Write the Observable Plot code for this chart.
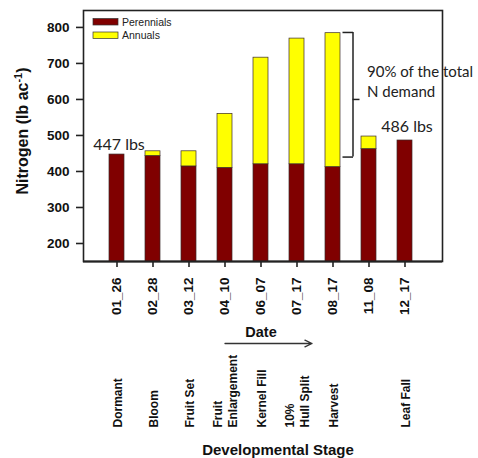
<!DOCTYPE html>
<html><head><meta charset="utf-8">
<script src="https://cdn.jsdelivr.net/npm/d3@7"></script>
<script src="https://cdn.jsdelivr.net/npm/@observablehq/plot@0.6"></script>
<style>body{margin:0;background:#fff} #chart{width:478px;height:458px}</style>
</head><body><div id="chart"></div>
<script>
const dates = ["01_26","02_28","03_12","04_10","06_07","07_17","08_17","11_08","12_17"];
const perennials = [447, 443, 414, 410, 420, 420, 412, 462, 486];
const annuals = [0, 13, 42, 150, 296, 349, 372, 35, 0];
const stages = ["Dormant","Bloom","Fruit Set","Fruit\nEnlargement","Kernel Fill","10%\nHull Split","Harvest","","Leaf Fall"];
const yTicks = [200, 300, 400, 500, 600, 700, 800];
const seriesNames = ["Perennials", "Annuals"];
const seriesColors = ["#800000", "#ffff00"];
const calloutDates = ["01_26", "12_17"];
const calloutValues = [447, 486];
const calloutLabels = ["447 lbs", "486 lbs"];
const demandNote = "90% of the total\nN demand";
const bracketRange = [786, 440, 600];

const rows = [];
dates.forEach((d, i) => {
  rows.push({date: d, series: seriesNames[0], value: perennials[i]});
  rows.push({date: d, series: seriesNames[1], value: annuals[i]});
});
const stageRows = dates.map((d, i) => ({date: d, stage: stages[i]})).filter(r => r.stage);
const callouts = calloutDates.map((d, i) => ({date: d, value: calloutValues[i], label: calloutLabels[i]}));

const sans = "'Liberation Sans', Arial, sans-serif";
const noteFont = "Lato, 'Open Sans', sans-serif";

const chart = Plot.plot({
  width: 478, height: 458,
  marginLeft: 83, marginRight: 36, marginTop: 10, marginBottom: 197,
  style: {fontFamily: sans, background: "#fff", color: "#111", overflow: "visible"},
  x: {domain: dates, paddingInner: 0.588, paddingOuter: 0.73, align: 0.46, label: null},
  y: {domain: [150, 847], label: null},
  color: {domain: seriesNames, range: seriesColors},
  marks: [
    Plot.barY(rows, {x: "date", y: "value", fill: "series", stroke: "#3a2a2a", strokeWidth: 0.7, clip: true}),
    Plot.frame({stroke: "#222", strokeWidth: 1.6}),
    Plot.ruleY([150], {stroke: "#222", strokeWidth: 2}),
    Plot.axisY({ticks: yTicks, tickSize: 7, tickPadding: 7, fontSize: 13.5, fontWeight: "bold", stroke: "#222", strokeWidth: 1.6}),
    Plot.axisX({tickSize: 6, tickPadding: 10, tickRotate: -90, textAnchor: "end", lineAnchor: "middle", fontSize: 13.5, fontWeight: "bold", stroke: "#222", strokeWidth: 1.6}),
    // callouts
    Plot.text(callouts.slice(0, 1), {x: "date", y: "value", text: "label", dx: 2, dy: -5, lineAnchor: "bottom", fontFamily: noteFont, fontSize: 16, fill: "#222"}),
    Plot.text(callouts.slice(1), {x: "date", y: "value", text: "label", dx: 2, dy: -9, lineAnchor: "bottom", fontFamily: noteFont, fontSize: 16, fill: "#222"}),
    // bracket
    Plot.ruleX(["08_17"], {y1: bracketRange[0], y2: bracketRange[1], dx: 20, stroke: "#222", strokeWidth: 1.5}),
    Plot.tickY(bracketRange.slice(0, 2), {x: () => "08_17", y: d => d, dx: 17.5, insetRight: 4.5, stroke: "#222", strokeWidth: 1.5}),
    Plot.tickY(bracketRange.slice(2), {x: () => "08_17", y: d => d, dx: 27.5, insetRight: 8, stroke: "#222", strokeWidth: 1.5}),
    Plot.text([demandNote], {x: () => "08_17", y: () => 652, text: d => d, dx: 34, textAnchor: "start", lineAnchor: "middle", lineHeight: 1.35, fontFamily: noteFont, fontSize: 15, fill: "#222"}),
    // date arrow and labels below
    Plot.text(["Date"], {text: d => d, frameAnchor: "bottom", dx: -2, dy: 71, lineAnchor: "middle", fontSize: 14.5, fontWeight: "bold"}),
    Plot.arrow([0], {x1: () => "04_10", x2: () => "08_17", y1: () => 150, y2: () => 150, dy: 82, insetEnd: 21, stroke: "#333", strokeWidth: 1.3, headLength: 9, headAngle: 50}),
    Plot.text(stageRows, {x: "date", text: "stage", frameAnchor: "bottom", dy: 166, rotate: -90, textAnchor: "start", lineAnchor: "middle", lineHeight: 1.2, fontSize: 12, fontWeight: "bold"}),
    Plot.text(["Developmental Stage"], {text: d => d, frameAnchor: "bottom", dx: 15, dy: 193, lineAnchor: "bottom", fontSize: 15, fontWeight: "bold"})
  ]
});

const svg = d3.select(chart);
// y-axis title with superscript
const yt = svg.append("text")
  .attr("transform", "translate(28,131) rotate(-90)")
  .attr("text-anchor", "middle")
  .attr("font-family", sans).attr("font-weight", "bold").attr("font-size", 16).attr("fill", "#111");
yt.append("tspan").text("Nitrogen (lb ac");
yt.append("tspan").attr("dy", -6).attr("font-size", 11).text("-1");
yt.append("tspan").attr("dy", 6).text(")");

// legend
const lg = svg.append("g").attr("text-anchor", "start");
seriesNames.forEach((name, i) => {
  lg.append("rect").attr("x", 93).attr("y", 18.5 + i * 13.5).attr("width", 25).attr("height", 6.5)
    .attr("fill", seriesColors[i]).attr("stroke", "#333").attr("stroke-width", 0.7);
  lg.append("text").attr("x", 122).attr("y", 25.5 + i * 13.5).attr("text-anchor", "start")
    .attr("font-family", sans).attr("font-size", 10.5).attr("fill", "#222").text(name);
});

document.getElementById("chart").append(chart);
</script>
</body></html>
